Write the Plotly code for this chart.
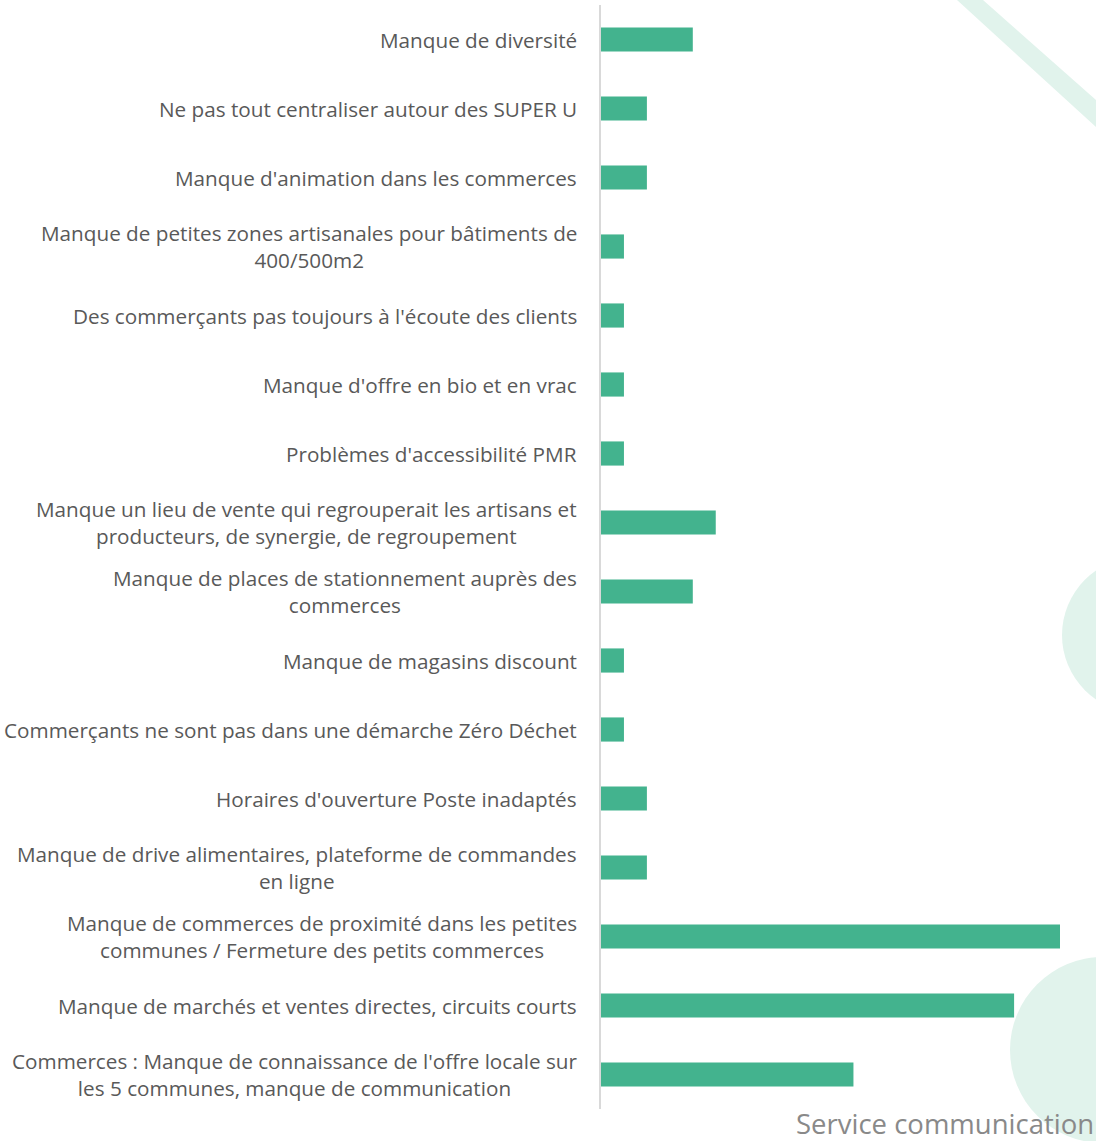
import plotly.graph_objects as go

categories = [
    "Manque de diversité",
    "Ne pas tout centraliser autour des SUPER U",
    "Manque d'animation dans les commerces",
    "Manque de petites zones artisanales pour bâtiments de<br>400/500m2",
    "Des commerçants pas toujours à l'écoute des clients",
    "Manque d'offre en bio et en vrac",
    "Problèmes d'accessibilité PMR",
    "Manque un lieu de vente qui regrouperait les artisans et<br>producteurs, de synergie, de regroupement",
    "Manque de places de stationnement auprès des<br>commerces",
    "Manque de magasins discount",
    "Commerçants ne sont pas dans une démarche Zéro Déchet",
    "Horaires d'ouverture Poste inadaptés",
    "Manque de drive alimentaires, plateforme de commandes<br>en ligne",
    "Manque de commerces de proximité dans les petites<br>communes / Fermeture des petits commerces",
    "Manque de marchés et ventes directes, circuits courts",
    "Commerces : Manque de connaissance de l'offre locale sur<br>les 5 communes, manque de communication",
]
values = [4, 2, 2, 1, 1, 1, 1, 5, 4, 1, 1, 2, 2, 20, 18, 11]

W, H = 1096, 1141
L, R, T, B = 601, 0, 5, 32
pw, ph = W - L - R, H - T - B

def px(x):
    return (x - L) / pw

def py(y):
    return (H - B - y) / ph

ids = list(range(len(categories)))

fig = go.Figure()
fig.add_trace(go.Bar(
    y=ids, x=values, orientation="h",
    marker=dict(color="#43B38E", line=dict(width=0)),
    hoverinfo="x",
))

shapes = []
light = "#E1F3EC"
shapes.append(dict(type="path", xref="paper", yref="paper", layer="below",
    path=f"M {px(957)} {py(0)} L {px(983)} {py(0)} L {px(1096)} {py(100)} L {px(1096)} {py(127)} Z",
    fillcolor=light, line=dict(width=0)))
shapes.append(dict(type="circle", xref="paper", yref="paper", layer="below",
    x0=px(1062), x1=px(1218), y0=py(713), y1=py(557),
    fillcolor=light, line=dict(width=0)))
shapes.append(dict(type="circle", xref="paper", yref="paper", layer="below",
    x0=px(1010), x1=px(1196), y0=py(1143), y1=py(957),
    fillcolor=light, line=dict(width=0)))

annotations = []
for i, c in enumerate(categories):
    annotations.append(dict(
        x=0, xref="paper", y=i, yref="y", text=c, showarrow=False,
        xanchor="right", yanchor="middle", align="center", xshift=-22,
        font=dict(family="Open Sans", size=20.7, color="#595959"),
    ))
annotations.append(dict(
    x=1, xref="paper", y=py(1124), yref="paper", text="Service communication",
    showarrow=False, xanchor="right", yanchor="middle", xshift=0,
    font=dict(family="Open Sans", size=27.5, color="#898989"),
))

fig.update_layout(
    width=W, height=H,
    margin=dict(l=L, r=R, t=T, b=B, pad=0),
    paper_bgcolor="white", plot_bgcolor="rgba(0,0,0,0)",
    showlegend=False, bargap=0.65,
    shapes=shapes, annotations=annotations,
    xaxis=dict(range=[0, pw / 22.95], showgrid=False, zeroline=False,
               showticklabels=False, showline=False, fixedrange=True),
    yaxis=dict(range=[len(categories) - 0.5, -0.5],
               showticklabels=False, showgrid=False, zeroline=False,
               showline=True, linecolor="#D9D9D9", linewidth=2, ticks=""),
)

fig.write_html("out.html", config={"displayModeBar": False},
               post_script="document.body.style.margin='0';document.body.style.overflow='hidden';")
